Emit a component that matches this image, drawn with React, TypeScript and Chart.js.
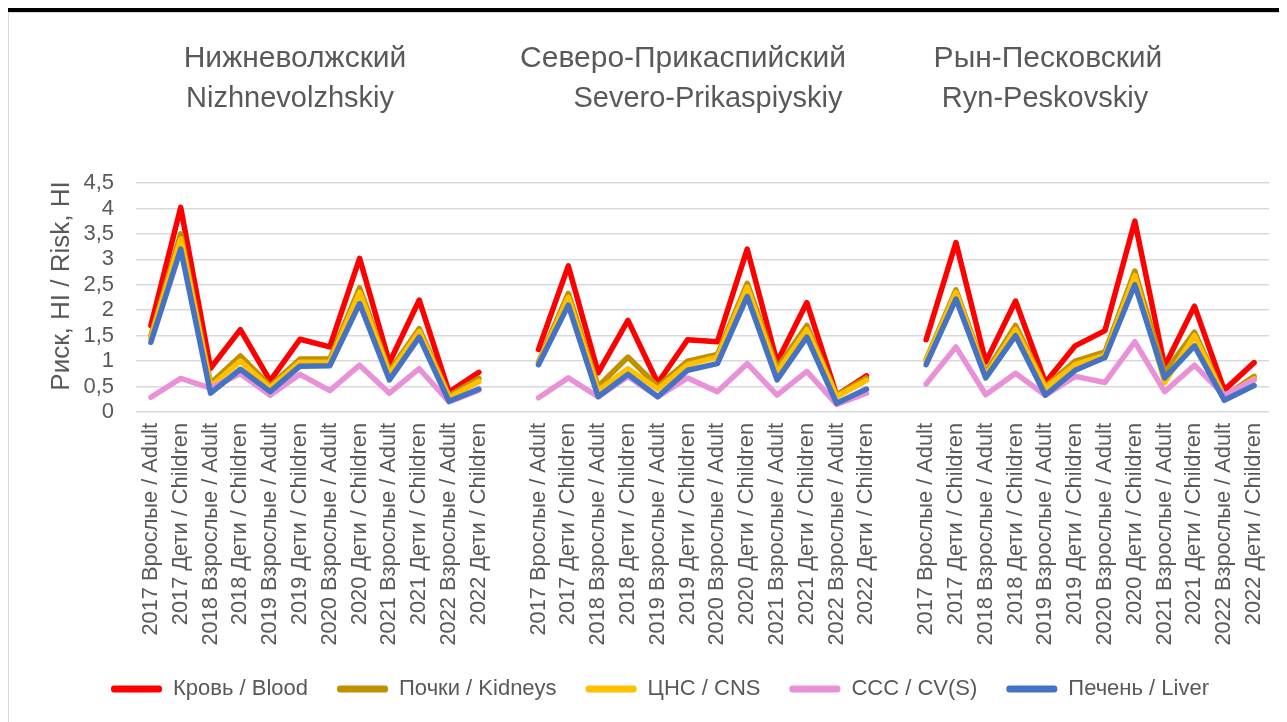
import React, { useEffect, useRef } from "react";
import { Chart, registerables } from "chart.js";
Chart.register(...registerables);

const groupLabels = [
  "2017 Врослые / Adult",
  "2017 Дети / Children",
  "2018 Взрослые / Adult",
  "2018 Дети / Children",
  "2019 Взрослые / Adult",
  "2019 Дети / Children",
  "2020 Взрослые / Adult",
  "2020 Дети / Children",
  "2021 Взрослые / Adult",
  "2021 Дети / Children",
  "2022 Взрослые / Adult",
  "2022 Дети / Children",
];
const categories = [...groupLabels, "", ...groupLabels, "", ...groupLabels];

const titlesRu = ["Нижневолжский", "Северо-Прикаспийский", "Рын-Песковский"];
const titlesEn = ["Nizhnevolzhskiy", "Severo-Prikaspiyskiy", "Ryn-Peskovskiy"];
const yTitle = "Риск, HI / Risk, HI";

const blood = [1.7, 4.02, 0.86, 1.62, 0.61, 1.43, 1.28, 3.02, 0.97, 2.2, 0.39, 0.78, null,
  1.23, 2.87, 0.77, 1.8, 0.57, 1.42, 1.38, 3.2, 0.98, 2.15, 0.33, 0.71, null,
  1.42, 3.33, 0.98, 2.18, 0.58, 1.3, 1.6, 3.75, 0.9, 2.08, 0.43, 0.97];
const kidneys = [1.5, 3.5, 0.56, 1.1, 0.51, 1.04, 1.04, 2.44, 0.8, 1.64, 0.32, 0.66, null,
  0.98, 2.33, 0.5, 1.08, 0.5, 1.0, 1.13, 2.53, 0.86, 1.7, 0.33, 0.67, null,
  1.03, 2.4, 0.77, 1.7, 0.5, 1.0, 1.18, 2.77, 0.77, 1.57, 0.3, 0.7];
const cns = [1.45, 3.4, 0.5, 1.0, 0.47, 0.98, 0.98, 2.35, 0.75, 1.58, 0.28, 0.6, null,
  0.95, 2.25, 0.42, 0.85, 0.45, 0.93, 1.08, 2.45, 0.78, 1.62, 0.3, 0.62, null,
  1.0, 2.35, 0.72, 1.62, 0.47, 0.93, 1.12, 2.68, 0.58, 1.5, 0.28, 0.65];
const ccc = [0.29, 0.66, 0.47, 0.75, 0.33, 0.74, 0.42, 0.92, 0.37, 0.85, 0.2, 0.43, null,
  0.28, 0.67, 0.3, 0.7, 0.3, 0.67, 0.4, 0.95, 0.33, 0.8, 0.15, 0.37, null,
  0.55, 1.28, 0.34, 0.76, 0.33, 0.7, 0.58, 1.38, 0.4, 0.92, 0.33, 0.63];
const liver = [1.37, 3.2, 0.37, 0.84, 0.4, 0.9, 0.91, 2.13, 0.63, 1.47, 0.21, 0.45, null,
  0.93, 2.1, 0.3, 0.74, 0.3, 0.82, 0.95, 2.27, 0.63, 1.47, 0.17, 0.45, null,
  0.93, 2.22, 0.67, 1.5, 0.33, 0.82, 1.07, 2.5, 0.67, 1.3, 0.23, 0.52];

const seriesNames = ["Кровь / Blood", "Почки / Kidneys", "ЦНС / CNS", "ССС / CV(S)", "Печень / Liver"];
const seriesColors = ["#FF0000", "#BF9000", "#FFC000", "#E991D6", "#4472C4"];
const seriesData = [blood, kidneys, cns, ccc, liver];

const FONT = '"Liberation Sans", Arial, sans-serif';
const GREY = "#595959";

// title text anchor positions (canvas px): [x line1, x line2]
const titlePos = [
  [286, 281],
  [674, 699],
  [1039, 1036],
];

const titlePlugin = {
  id: "groupTitles",
  afterLayout(chart: any) {
    if (chart.legend) {
      chart.legend.left += 9;
      chart.legend.right += 9;
    }
  },
  afterDraw(chart: any) {
    const ctx = chart.ctx;
    ctx.save();
    ctx.fillStyle = GREY;
    ctx.textAlign = "center";
    ctx.textBaseline = "middle";
    for (let i = 0; i < titlesRu.length; i++) {
      ctx.font = `30px ${FONT}`;
      ctx.fillText(titlesRu[i], titlePos[i][0], 46);
      ctx.font = `29px ${FONT}`;
      ctx.fillText(titlesEn[i], titlePos[i][1], 86);
    }
    ctx.font = `26px ${FONT}`;
    ctx.translate(53, 273);
    ctx.rotate(-Math.PI / 2);
    ctx.fillText(yTitle, 0, 0);
    ctx.restore();
  },
};

export default function App() {
  const ref = useRef<HTMLCanvasElement | null>(null);
  useEffect(() => {
    if (!ref.current) return;
    const chart = new Chart(ref.current, {
      type: "line",
      data: {
        labels: categories,
        datasets: seriesData.map((d, i) => ({
          label: seriesNames[i],
          data: d,
          borderColor: seriesColors[i],
          backgroundColor: seriesColors[i],
          borderWidth: 5.5,
          pointRadius: 0,
          pointHoverRadius: 0,
          tension: 0,
          spanGaps: false,
          borderJoinStyle: "round",
          borderCapStyle: "round",
          order: seriesData.length - i,
        })),
      },
      options: {
        responsive: false,
        animation: false,
        layout: { padding: { left: 24, right: 18, top: 170, bottom: 12 } },
        plugins: {
          legend: {
            position: "bottom",
            labels: {
              boxWidth: 51,
              boxHeight: 7,
              padding: 29,
              color: GREY,
              font: { family: FONT, size: 22 },
              useBorderRadius: true,
              borderRadius: 3,
              sort: (a: any, b: any) => a.datasetIndex - b.datasetIndex,
              generateLabels: (c: any) =>
                (Chart.defaults.plugins.legend.labels as any)
                  .generateLabels(c)
                  .map((l: any) => ({ ...l, lineWidth: 0 })),
            },
          },
          tooltip: { enabled: false },
        },
        scales: {
          x: {
            offset: true,
            grid: { display: false },
            border: { display: false },
            ticks: {
              autoSkip: false,
              maxRotation: 90,
              minRotation: 90,
              padding: 3,
              color: GREY,
              font: { family: FONT, size: 21.8 },
            },
            afterFit: (s: any) => {
              s.height = 237;
            },
          },
          y: {
            min: 0,
            max: 4.5,
            grid: { color: "#D9D9D9", lineWidth: 1.5, drawTicks: false },
            border: { display: false },
            ticks: {
              stepSize: 0.5,
              autoSkip: false,
              padding: 22,
              color: GREY,
              font: { family: FONT, size: 22 },
              callback: (v: any) => String(v).replace(".", ","),
            },
            afterFit: (s: any) => {
              s.width = 103;
            },
          },
        },
      },
      plugins: [titlePlugin],
    } as any);
    return () => chart.destroy();
  }, []);

  return (
    <div style={{ position: "relative", width: 1279, height: 714 }}>
      <div style={{ position: "absolute", left: 443, top: -6, width: 475, height: 2, background: "#0000EE" }} />
      <div style={{ position: "absolute", left: 0, top: 0, width: 1279, height: 4, background: "#000" }} />
      <div
        style={{
          position: "absolute",
          left: 0,
          top: 4,
          width: 1279,
          height: 710,
          borderLeft: "1px solid #D9D9D9",
          borderTop: "1px solid #D9D9D9",
          boxSizing: "border-box",
          background: "#fff",
        }}
      >
        <canvas ref={ref} width={1278} height={709} style={{ display: "block", width: 1278, height: 709 }} />
      </div>
    </div>
  );
}
